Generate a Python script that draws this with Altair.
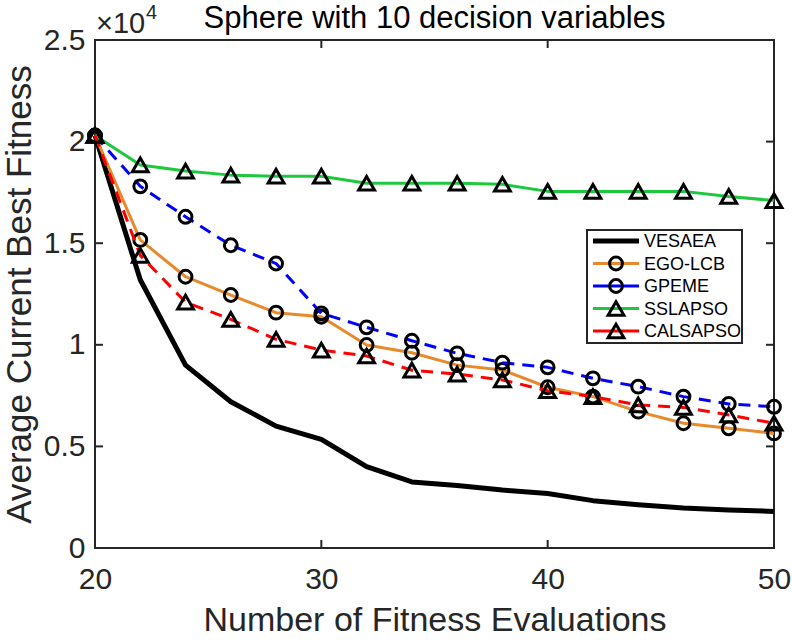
import altair as alt
import pandas as pd

# Fitness-evaluation budget on the x axis
EVALS = [20, 22, 24, 26, 28, 30, 32, 34, 36, 38, 40, 42, 44, 46, 48, 50]

# Average current best fitness per algorithm
VESAEA = [20300, 13200, 9000, 7200, 6000, 5350, 4000, 3250, 3080, 2850, 2680, 2330, 2130, 1970, 1870, 1800]
EGO_LCB = [20300, 15160, 13350, 12450, 11580, 11380, 9990, 9610, 9000, 8760, 7910, 7450, 6710, 6140, 5890, 5640]
GPEME = [20300, 17800, 16300, 14900, 14000, 11550, 10860, 10200, 9580, 9120, 8890, 8350, 7940, 7450, 7090, 6950]
SSLAPSO = [20300, 18850, 18550, 18350, 18300, 18300, 17950, 17950, 17950, 17900, 17550, 17550, 17550, 17550, 17300, 17100]
CALSAPSO = [20300, 14400, 12100, 11250, 10270, 9740, 9450, 8750, 8560, 8270, 7740, 7450, 7040, 6920, 6550, 6140]

SERIES = ["VESAEA", "EGO-LCB", "GPEME", "SSLAPSO", "CALSAPSO"]
VALUES = [VESAEA, EGO_LCB, GPEME, SSLAPSO, CALSAPSO]

X_TICKS = [20, 30, 40, 50]
Y_TICKS = [0, 5000, 10000, 15000, 20000, 25000]

TITLE = "Sphere with 10 decision variables"
X_TITLE = "Number of Fitness Evaluations"
Y_TITLE = "Average Current Best Fitness"

STYLE = {
    "VESAEA": dict(color="#000000", width=5, dash=None, shape=None),
    "EGO-LCB": dict(color="#e8892b", width=3, dash=None, shape="circle"),
    "GPEME": dict(color="#0000ff", width=3, dash=[12, 8], shape="circle"),
    "SSLAPSO": dict(color="#1ec83c", width=3, dash=None, shape="triangle-up"),
    "CALSAPSO": dict(color="#ff0000", width=3, dash=[12, 8], shape="triangle-up"),
}
MARKER_SIZE = {"circle": 165, "triangle-up": 250}

W, H = 679, 508
FONT = "Liberation Sans"
AX = "#262626"
TICK_LEN = 8

x_scale = alt.Scale(domain=[20, 50], nice=False, zero=False)
y_scale = alt.Scale(domain=[0, 25000], nice=False, zero=False)

x_axis = alt.Axis(
    values=X_TICKS, ticks=False, domain=False, grid=False,
    labelFont=FONT, labelFontSize=30, labelColor=AX, labelPadding=16,
    labelFlush=False, labelOverlap=False,
    title=X_TITLE, titleFont=FONT, titleFontSize=34, titleFontWeight="normal",
    titleColor=AX, titlePadding=9,
)
y_axis = alt.Axis(
    values=Y_TICKS, ticks=False, domain=False, grid=False,
    labelExpr="'' + datum.value / 10000",
    labelFont=FONT, labelFontSize=30, labelColor=AX, labelPadding=10,
    labelFlush=False, labelOverlap=False,
    title=Y_TITLE, titleFont=FONT, titleFontSize=35, titleFontWeight="normal",
    titleColor=AX, titlePadding=6,
)


def xq(field):
    return alt.X(f"{field}:Q", scale=x_scale, axis=x_axis)


def yq(field):
    return alt.Y(f"{field}:Q", scale=y_scale, axis=y_axis)


layers = []

# Inward tick marks on all four sides of the box
xt = pd.DataFrame({"tx": X_TICKS})
yt = pd.DataFrame({"ty": Y_TICKS})
tick_style = dict(color=AX, strokeWidth=2)
layers.append(alt.Chart(xt).mark_rule(**tick_style).encode(x=xq("tx"), y=alt.value(H), y2=alt.value(H - TICK_LEN)))
layers.append(alt.Chart(xt).mark_rule(**tick_style).encode(x=xq("tx"), y=alt.value(0), y2=alt.value(TICK_LEN)))
layers.append(alt.Chart(yt).mark_rule(**tick_style).encode(y=yq("ty"), x=alt.value(0), x2=alt.value(TICK_LEN)))
layers.append(alt.Chart(yt).mark_rule(**tick_style).encode(y=yq("ty"), x=alt.value(W), x2=alt.value(W - TICK_LEN)))

# Convergence curves with their markers
for name, vals in zip(SERIES, VALUES):
    st = STYLE[name]
    df = pd.DataFrame({"evals": EVALS, "fitness": vals, "algorithm": name})
    line_kw = dict(color=st["color"], strokeWidth=st["width"], strokeJoin="round")
    if st["dash"]:
        line_kw["strokeDash"] = st["dash"]
    layers.append(alt.Chart(df).mark_line(**line_kw).encode(x=xq("evals"), y=yq("fitness")))
    if st["shape"]:
        layers.append(
            alt.Chart(df).mark_point(
                shape=st["shape"], size=MARKER_SIZE[st["shape"]], filled=False,
                color="black", strokeWidth=3, opacity=1,
            ).encode(x=xq("evals"), y=yq("fitness"))
        )

# Legend box (top-right, inside the axes)
LG_X0, LG_X1, LG_Y0, LG_Y1 = 492, 647, 190, 303
LG_ROW0, LG_STEP = 201, 22.5
layers.append(
    alt.Chart(pd.DataFrame({"k": [0]})).mark_rect(fill="white", stroke=AX, strokeWidth=2).encode(
        x=alt.value(LG_X0), x2=alt.value(LG_X1), y=alt.value(LG_Y0), y2=alt.value(LG_Y1)
    )
)
for i, name in enumerate(SERIES):
    st = STYLE[name]
    ry = LG_ROW0 + i * LG_STEP
    one = pd.DataFrame({"algorithm": [name]})
    layers.append(
        alt.Chart(one).mark_rule(color=st["color"], strokeWidth=st["width"]).encode(
            x=alt.value(LG_X0 + 6), x2=alt.value(LG_X0 + 52), y=alt.value(ry)
        )
    )
    if st["shape"]:
        layers.append(
            alt.Chart(one).mark_point(
                shape=st["shape"], size=MARKER_SIZE[st["shape"]], filled=False,
                color="black", strokeWidth=3, opacity=1,
            ).encode(x=alt.value(LG_X0 + 29), y=alt.value(ry))
        )
    layers.append(
        alt.Chart(one).mark_text(font=FONT, fontSize=18, align="left", baseline="middle", color="black").encode(
            x=alt.value(LG_X0 + 57), y=alt.value(ry + 1), text="algorithm:N"
        )
    )

# Chart title and the x10^4 exponent of the y axis
layers.append(
    alt.Chart(pd.DataFrame({"t": [TITLE]})).mark_text(
        font=FONT, fontSize=31, align="center", baseline="alphabetic", color="black"
    ).encode(x=alt.value(W / 2), y=alt.value(-12), text="t:N")
)
layers.append(
    alt.Chart(pd.DataFrame({"t": ["\u00d710"]})).mark_text(
        font=FONT, fontSize=29, align="left", baseline="alphabetic", color=AX
    ).encode(x=alt.value(1), y=alt.value(-7), text="t:N")
)
layers.append(
    alt.Chart(pd.DataFrame({"t": ["4"]})).mark_text(
        font=FONT, fontSize=20, align="left", baseline="alphabetic", color=AX
    ).encode(x=alt.value(51), y=alt.value(-21), text="t:N")
)

chart = alt.layer(*layers).properties(
    width=W,
    height=H,
    autosize=alt.AutoSizeParams(type="none"),
    padding={"left": 95, "top": 40, "right": 18, "bottom": 92},
    background="white",
).configure_view(stroke=AX, strokeWidth=2)

chart.save("out.html", embed_options={"renderer": "svg", "actions": False})
